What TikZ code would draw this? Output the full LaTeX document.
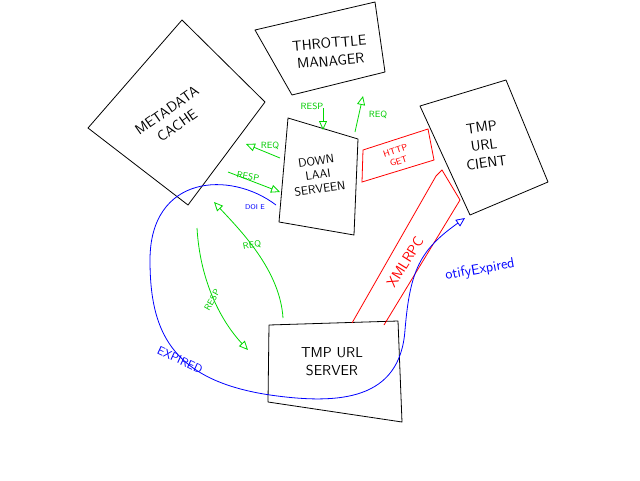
\documentclass[tikz,border=0pt]{standalone}
\usetikzlibrary{arrows.meta}
\begin{document}
\begin{tikzpicture}[x=1pt,y=-1pt,line width=0.8pt,
  box/.style={draw=black,line join=round},
  lbl/.style={font=\sffamily\Large,align=center,inner sep=0pt},
  msg/.style={draw=green!85!black,-{Triangle[open,length=9pt,width=8pt]}},
  msgtxt/.style={text=green!80!black,font=\sffamily\small,inner sep=0pt}]
  \useasboundingbox (0,0) rectangle (640,480);
  % boxes
  \draw[box] (88,128) -- (182,20) -- (265,102) -- (188,205) -- cycle;
  \node[lbl,rotate=35] (cache) at (172,118) {METADATA\\CACHE};
  \draw[box] (255,30) -- (375,2) -- (385,72) -- (292,95) -- cycle;
  \node[lbl,rotate=5] (throttle) at (330,52) {THROTTLE\\MANAGER};
  \draw[box] (288,118) -- (358,139) -- (354,235) -- (279,222) -- cycle;
  \node[lbl,rotate=8,font=\sffamily\large] (down) at (318,175) {DOWN\\LAAI\\SERVEEN};
  \draw[box] (420,106) -- (506,80) -- (548,182) -- (470,215) -- cycle;
  \node[lbl,rotate=8] (client) at (484,145) {TMP\\URL\\CIENT};
  \draw[box] (269,325) -- (398,321) -- (402,422) -- (268,402) -- cycle;
  \node[lbl] (server) at (332,362) {TMP URL\\SERVER};
  % http get
  \draw[red] (363,150) -- (428,129) -- (434,160) -- (362,182) -- cycle;
  \node[text=red,font=\sffamily\small,align=center,rotate=18,inner sep=0pt] (http) at (397,156) {HTTP\\GET};
  % xmlrpc band
  \draw[red] (352,323) -- (436,176) -- (442,170) -- (460,200) -- (384,325);
  \node[text=red,font=\sffamily\Large,rotate=58,inner sep=0pt] (xml) at (405,262) {XMLRPC};
  % blue notify loop
  \coordinate (s) at (276,205);
  \coordinate (e) at (465,218);
  \draw[blue,-{Triangle[open,length=9pt,width=8pt]}] (s)
    .. controls (230,170) and (150,175) .. (150,260)
    .. controls (150,330) and (170,380) .. (270,395)
    .. controls (340,405) and (400,400) .. (405,330)
    .. controls (410,270) and (420,250) .. (e);
  \node[text=blue,font=\sffamily\Large,rotate=10,inner sep=0pt] (exp) at (480,270) {otifyExpired};
  \node[text=blue,font=\sffamily\large,rotate=-25,inner sep=0pt] (expd) at (180,360) {EXPIRED};
  \node[text=blue,font=\sffamily\scriptsize,inner sep=0pt] (doi) at (255,207) {DOI E};
  % green messages
  \coordinate (r1) at (323,108); \coordinate (r2) at (323,130);
  \draw[msg] (r1) -- (r2);
  \node[msgtxt] (resp1) at (312,106) {RESP};
  \coordinate (q1) at (355,132); \coordinate (q2) at (363,96);
  \draw[msg] (q1) -- (q2);
  \node[msgtxt] (req1) at (378,115) {REQ};
  \coordinate (q3) at (280,158); \coordinate (q4) at (246,144);
  \draw[msg] (q3) -- (q4);
  \node[msgtxt] (req2) at (270,146) {REQ};
  \coordinate (r3) at (228,172); \coordinate (r4) at (280,192);
  \draw[msg] (r3) -- (r4);
  \node[msgtxt,rotate=-10] (resp2) at (248,176) {RESP};
  \coordinate (q5) at (283,318); \coordinate (q6) at (214,202);
  \draw[msg] (q5) .. controls (280,270) and (240,230) .. (q6);
  \node[msgtxt,rotate=10] (req3) at (252,245) {REQ};
  \coordinate (r5) at (197,228); \coordinate (r6) at (248,350);
  \draw[msg] (r5) .. controls (200,280) and (220,320) .. (r6);
  \node[msgtxt,rotate=60] (resp3) at (212,300) {RESP};
\end{tikzpicture}
\end{document}
